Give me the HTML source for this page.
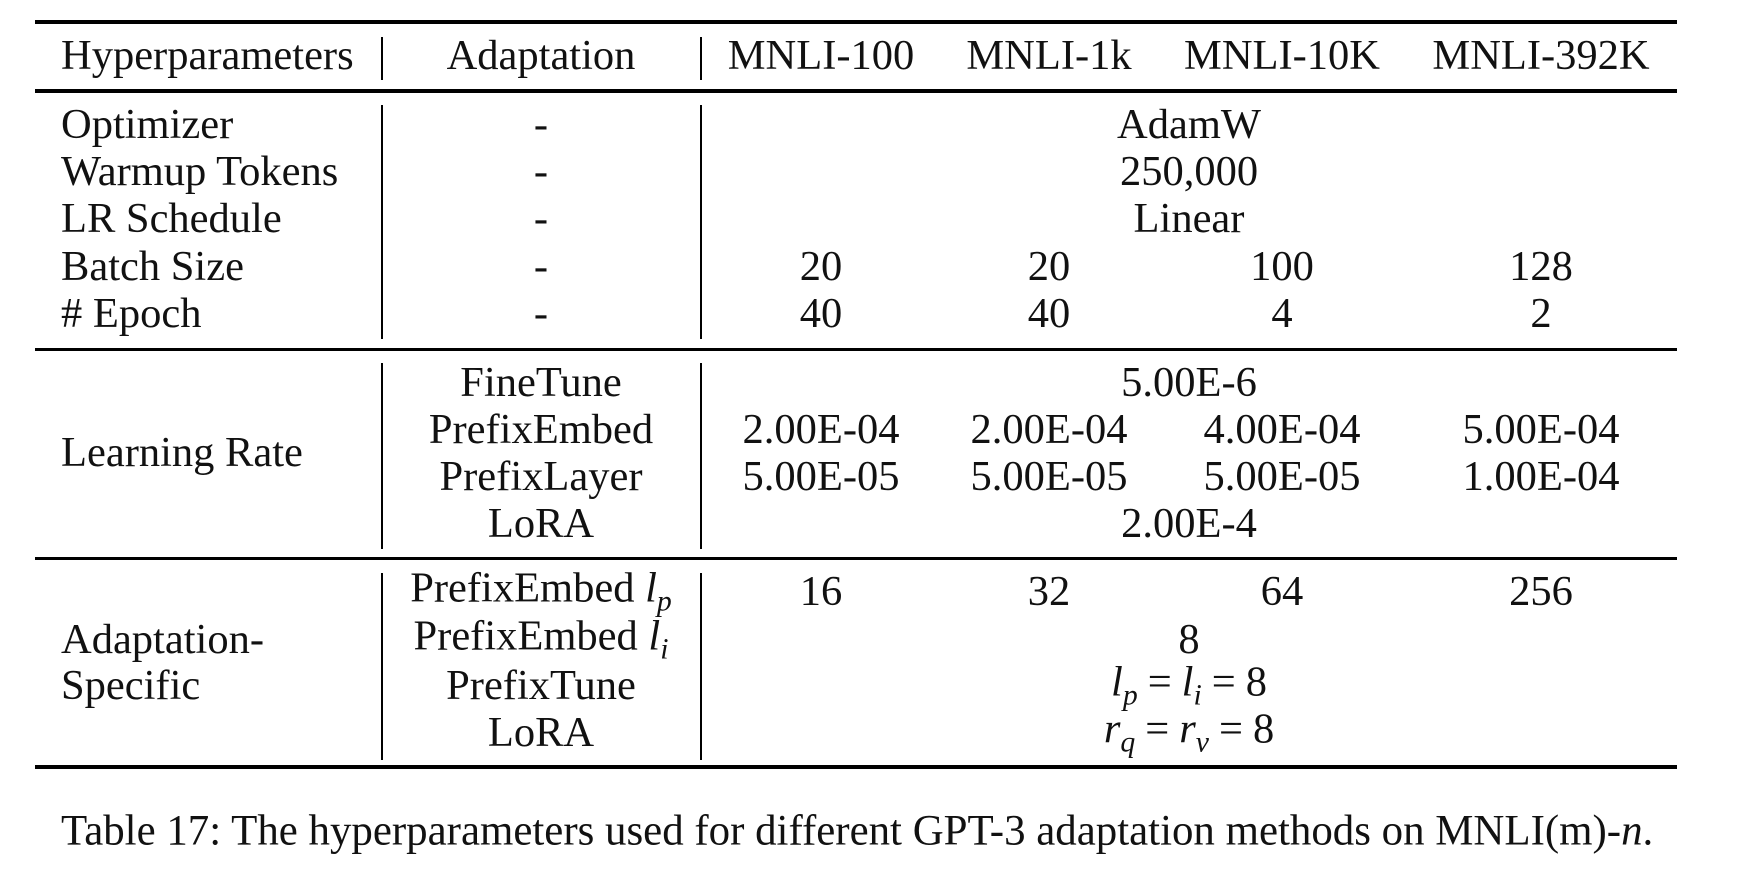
<!DOCTYPE html>
<html><head><meta charset="utf-8"><style>
body{margin:0;background:#fff;width:1738px;height:882px;position:relative;overflow:hidden;font-family:"Liberation Serif",serif;font-size:42.5px;color:#111}
.t{position:absolute;white-space:nowrap;line-height:1;transform:translate(-50%,-50%)}
.l{position:absolute;white-space:nowrap;line-height:1;transform:translateY(-50%)}
.h{position:absolute;left:35px;width:1642px;background:#000}
.v{position:absolute;width:2px;background:#000}
i{font-style:italic}
sub{font-size:0.7em;vertical-align:-0.3em;font-style:italic}
.eq{margin:0 10px}
</style></head><body>
<div class="h" style="top:20px;height:4px"></div>
<div class="h" style="top:89px;height:4px"></div>
<div class="h" style="top:348px;height:3px"></div>
<div class="h" style="top:557px;height:3px"></div>
<div class="h" style="top:765px;height:4px"></div>
<div class="v" style="left:381px;top:37px;height:43px"></div>
<div class="v" style="left:700px;top:37px;height:43px"></div>
<div class="v" style="left:381px;top:105px;height:234px"></div>
<div class="v" style="left:700px;top:105px;height:234px"></div>
<div class="v" style="left:381px;top:363px;height:186px"></div>
<div class="v" style="left:700px;top:363px;height:186px"></div>
<div class="v" style="left:381px;top:573px;height:187px"></div>
<div class="v" style="left:700px;top:573px;height:187px"></div>

<div class="l" style="left:61px;top:56px">Hyperparameters</div>
<div class="t" style="left:541px;top:56px">Adaptation</div>
<div class="t" style="left:821px;top:56px">MNLI-100</div>
<div class="t" style="left:1049px;top:56px">MNLI-1k</div>
<div class="t" style="left:1282px;top:56px">MNLI-10K</div>
<div class="t" style="left:1541px;top:56px">MNLI-392K</div>

<div class="l" style="left:61px;top:125px">Optimizer</div>
<div class="l" style="left:61px;top:172px">Warmup Tokens</div>
<div class="l" style="left:61px;top:219px">LR Schedule</div>
<div class="l" style="left:61px;top:267px">Batch Size</div>
<div class="l" style="left:61px;top:314px"># Epoch</div>
<div class="t" style="left:541px;top:125px">-</div>
<div class="t" style="left:541px;top:172px">-</div>
<div class="t" style="left:541px;top:219px">-</div>
<div class="t" style="left:541px;top:267px">-</div>
<div class="t" style="left:541px;top:314px">-</div>
<div class="t" style="left:1189px;top:125px">AdamW</div>
<div class="t" style="left:1189px;top:172px">250,000</div>
<div class="t" style="left:1189px;top:219px">Linear</div>
<div class="t" style="left:821px;top:267px">20</div>
<div class="t" style="left:1049px;top:267px">20</div>
<div class="t" style="left:1282px;top:267px">100</div>
<div class="t" style="left:1541px;top:267px">128</div>
<div class="t" style="left:821px;top:314px">40</div>
<div class="t" style="left:1049px;top:314px">40</div>
<div class="t" style="left:1282px;top:314px">4</div>
<div class="t" style="left:1541px;top:314px">2</div>

<div class="l" style="left:61px;top:453px">Learning Rate</div>
<div class="t" style="left:541px;top:383px">FineTune</div>
<div class="t" style="left:541px;top:430px">PrefixEmbed</div>
<div class="t" style="left:541px;top:477px">PrefixLayer</div>
<div class="t" style="left:541px;top:524px">LoRA</div>
<div class="t" style="left:1189px;top:383px">5.00E-6</div>
<div class="t" style="left:821px;top:430px">2.00E-04</div>
<div class="t" style="left:1049px;top:430px">2.00E-04</div>
<div class="t" style="left:1282px;top:430px">4.00E-04</div>
<div class="t" style="left:1541px;top:430px">5.00E-04</div>
<div class="t" style="left:821px;top:477px">5.00E-05</div>
<div class="t" style="left:1049px;top:477px">5.00E-05</div>
<div class="t" style="left:1282px;top:477px">5.00E-05</div>
<div class="t" style="left:1541px;top:477px">1.00E-04</div>
<div class="t" style="left:1189px;top:524px">2.00E-4</div>

<div class="l" style="left:61px;top:640px">Adaptation-</div>
<div class="l" style="left:61px;top:686px">Specific</div>
<div class="t" style="left:541px;top:592px">PrefixEmbed <i>l</i><sub>p</sub></div>
<div class="t" style="left:541px;top:640px">PrefixEmbed <i>l</i><sub>i</sub></div>
<div class="t" style="left:541px;top:686px">PrefixTune</div>
<div class="t" style="left:541px;top:733px">LoRA</div>
<div class="t" style="left:821px;top:592px">16</div>
<div class="t" style="left:1049px;top:592px">32</div>
<div class="t" style="left:1282px;top:592px">64</div>
<div class="t" style="left:1541px;top:592px">256</div>
<div class="t" style="left:1189px;top:640px">8</div>
<div class="t" style="left:1189px;top:686px"><i>l</i><sub>p</sub><span class="eq">=</span><i>l</i><sub>i</sub><span class="eq">=</span>8</div>
<div class="t" style="left:1189px;top:733px"><i>r</i><sub>q</sub><span class="eq">=</span><i>r</i><sub>v</sub><span class="eq">=</span>8</div>

<div class="l" style="left:61px;top:832px;font-size:42.9px">Table 17: The hyperparameters used for different GPT-3 adaptation methods on MNLI(m)-<i>n</i>.</div>
</body></html>
